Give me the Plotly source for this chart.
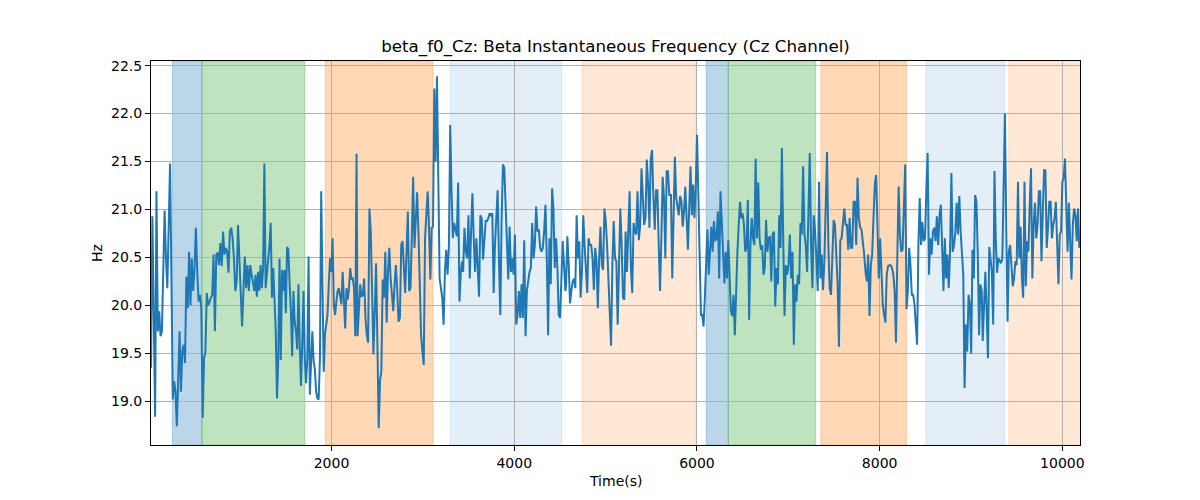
import numpy as np
import plotly.graph_objects as go

# ---- data: beta instantaneous frequency (Hz), traced in consecutive segments ----
seg_bounds = [  # (start time, end time) in seconds for each traced segment
    (24.3, 1125.3), (1154.5, 2274.0), (2284.7, 3429.6), (3440.5, 4559.9),
    (4567.2, 5697.4), (5715.7, 6842.3), (6857.0, 7961.5), (7990.8, 9117.4),
    (9128.3, 10185.7),
]
seg_a = [19.35, 20.93, 19.90, 18.84, 21.19, 19.73, 19.94, 19.68, 19.73, 20.35, 20.99, 20.49, 20.18, 20.84, 21.48,
         20.28, 19.02, 19.21, 19.10, 18.74, 19.17, 19.73, 19.10, 19.52, 19.59, 19.40, 20.30, 19.97, 20.56, 20.00,
         20.49, 20.15, 20.39, 20.81, 20.35, 20.04, 20.11, 19.97, 18.83, 19.45, 19.52, 20.13, 20.00, 20.03, 20.08,
         20.11, 20.53, 19.73, 20.53, 20.55, 20.42, 20.65, 20.41, 20.77, 20.53, 20.60, 20.56, 20.34, 20.77, 20.81,
         20.70, 20.49, 20.15, 20.25, 20.84, 20.49, 20.08, 19.78, 20.15, 20.51, 20.18, 20.42, 20.15, 20.42, 20.32]
seg_b = [20.15, 20.32, 20.09, 20.35, 20.15, 20.42, 20.18, 20.39, 21.48, 20.18, 20.32, 20.42, 20.63, 20.86, 20.08,
         20.39, 20.08, 19.73, 19.03, 19.45, 20.49, 19.43, 20.37, 20.15, 20.37, 19.92, 20.61, 20.58, 20.22, 19.94,
         19.47, 20.15, 19.83, 19.73, 19.54, 20.22, 19.59, 19.16, 19.59, 20.15, 19.45, 19.19, 19.45, 20.51, 19.07,
         19.52, 19.73, 19.42, 19.33, 19.10, 19.03, 19.02, 19.45, 21.19, 20.04, 19.31, 19.70, 19.83, 19.90, 20.22,
         20.49, 20.35, 20.70, 20.01, 19.90, 20.04, 20.15, 20.18, 20.08, 20.01, 20.35, 20.04, 19.76, 20.18, 20.06,
         20.18, 20.39, 20.27, 20.28, 20.18, 19.68, 21.58]
seg_c = [19.68, 19.94, 20.22, 20.09, 20.11, 20.28, 19.87, 19.69, 19.61, 21.01, 20.77, 20.15, 19.49, 19.94, 20.44,
         19.62, 18.72, 19.22, 19.31, 20.27, 20.08, 20.56, 19.82, 20.35, 20.60, 20.28, 20.08, 19.94, 20.22, 20.42,
         20.15, 19.83, 19.87, 20.63, 20.67, 20.42, 20.13, 20.56, 20.98, 20.15, 20.18, 20.70, 21.34, 20.60, 20.84,
         21.18, 20.77, 20.32, 19.69, 19.52, 19.38, 20.70, 20.91, 21.19, 20.81, 20.27, 20.81, 20.82, 22.26, 21.50,
         22.39, 21.50, 20.28, 20.18, 20.08, 19.80, 20.35, 20.58, 20.32, 20.60, 21.88, 21.19, 20.70, 20.86, 20.77,
         20.72, 21.28, 20.04, 20.35, 20.46]
seg_d = [20.35, 20.81, 20.56, 20.49, 20.94, 20.28, 20.77, 21.17, 20.70, 20.35, 20.70, 20.42, 20.09, 20.94, 20.91,
         20.48, 20.70, 20.88, 20.88, 20.91, 20.96, 20.94, 20.96, 20.13, 20.63, 20.98, 21.20, 20.46, 19.90, 20.91,
         21.47, 21.43, 21.01, 20.63, 20.27, 20.82, 20.35, 20.49, 20.32, 20.74, 19.80, 19.90, 20.15, 19.87, 20.22,
         19.87, 20.68, 19.68, 20.15, 20.25, 20.35, 20.39, 20.86, 20.49, 20.63, 21.03, 20.77, 20.79, 20.60, 20.56,
         20.60, 20.77, 21.05, 20.49, 19.69, 20.70, 20.22, 21.22, 21.01, 20.39, 20.70, 20.39, 19.90, 19.87, 20.42,
         20.67, 20.42, 20.15]
seg_e = [20.22, 20.72, 20.42, 20.02, 20.15, 20.25, 20.28, 20.18, 20.94, 20.49, 20.67, 20.08, 20.35, 20.94, 20.63,
         20.42, 20.13, 20.70, 20.63, 20.63, 20.49, 20.16, 20.60, 20.46, 19.97, 20.49, 20.82, 20.42, 20.37, 21.01,
         20.88, 20.63, 20.32, 19.94, 19.58, 20.42, 20.88, 20.49, 20.46, 19.80, 20.49, 21.01, 20.63, 20.08, 20.06,
         20.77, 20.35, 20.91, 21.19, 20.39, 20.13, 20.86, 20.77, 20.74, 21.19, 20.68, 20.84, 21.43, 21.12, 20.84,
         20.91, 21.52, 21.27, 20.81, 21.53, 21.62, 21.12, 20.79, 21.20, 21.20, 20.63, 20.15, 20.70, 21.34, 21.12,
         20.49, 21.40, 21.40, 21.15]
seg_f = [21.15, 20.28, 21.12, 21.55, 21.12, 21.05, 20.94, 21.14, 21.09, 20.82, 20.98, 21.24, 20.94, 20.58, 21.01,
         21.45, 20.94, 21.26, 20.91, 21.22, 21.78, 21.19, 20.56, 19.90, 19.90, 19.78, 20.08, 20.42, 20.79, 20.32,
         20.56, 20.82, 20.56, 20.88, 20.67, 20.70, 20.98, 20.28, 21.19, 20.81, 20.63, 20.23, 20.56, 20.28, 20.68,
         20.22, 19.94, 19.89, 20.11, 19.69, 20.28, 20.56, 20.84, 21.08, 20.91, 20.96, 20.84, 20.56, 20.60, 21.10,
         19.85, 20.63, 20.91, 20.70, 20.63, 21.53, 20.70, 21.28, 20.70, 20.58, 20.63, 20.32, 20.39, 20.89, 20.56,
         20.70, 20.72, 20.25, 20.74, 20.77]
seg_g = [19.99, 20.39, 20.22, 20.94, 20.60, 21.64, 20.70, 19.89, 20.42, 20.32, 20.42, 20.74, 20.28, 20.56, 19.59,
         20.22, 20.04, 20.32, 20.22, 20.86, 20.74, 21.45, 20.74, 20.63, 20.35, 21.05, 21.59, 20.63, 20.18, 20.94,
         20.77, 20.49, 20.15, 21.29, 20.28, 20.53, 20.16, 20.46, 20.98, 21.60, 20.63, 20.18, 20.11, 20.49, 20.89,
         20.84, 20.56, 20.22, 19.57, 20.68, 20.70, 20.91, 21.01, 20.84, 20.84, 20.58, 20.91, 20.60, 20.60, 21.08,
         21.08, 20.63, 21.33, 20.91, 20.81, 20.79, 20.67, 20.53, 20.35, 20.25, 20.53, 19.89, 20.42, 20.53, 20.91,
         21.26, 21.36]
seg_h = [20.28, 20.70, 20.28, 20.01, 19.90, 19.82, 20.32, 20.41, 20.42, 20.42, 20.39, 20.32, 20.15, 19.61, 20.49,
         21.24, 20.74, 20.56, 20.58, 21.19, 21.47, 19.96, 20.15, 20.60, 20.42, 20.11, 20.11, 20.02, 19.80, 19.59,
         20.63, 21.12, 20.63, 20.87, 20.67, 20.70, 21.19, 21.59, 20.32, 20.70, 20.53, 20.77, 20.81, 20.67, 20.93,
         20.63, 20.94, 21.05, 20.60, 20.15, 20.70, 20.28, 20.53, 20.18, 20.56, 21.38, 20.56, 20.63, 20.77, 21.07,
         20.74, 21.14, 20.77, 20.46, 20.32, 19.14, 19.80, 19.52, 20.11, 20.01, 19.50, 20.58, 20.28, 21.15, 21.08,
         20.53, 19.69, 20.22, 20.15]
seg_i = [19.63, 20.01, 20.35, 19.94, 19.45, 20.61, 20.49, 20.35, 19.80, 21.40, 20.67, 20.34, 20.49, 20.46, 20.44,
         20.49, 21.43, 22.00, 20.84, 19.83, 20.56, 20.63, 20.42, 20.20, 20.28, 20.46, 20.42, 21.29, 20.49, 20.82,
         20.28, 20.08, 21.29, 20.20, 20.67, 20.56, 21.05, 21.43, 20.28, 20.84, 21.07, 20.70, 20.84, 21.19, 21.19,
         20.46, 20.98, 21.41, 21.41, 20.60, 20.81, 21.08, 21.08, 20.70, 20.84, 20.91, 21.08, 20.49, 20.22, 20.74,
         20.77, 21.29, 21.33, 21.53, 21.05, 20.56, 21.07, 20.63, 20.27, 20.84, 21.01, 20.94, 20.67, 21.01, 20.60]
segments = [seg_a, seg_b, seg_c, seg_d, seg_e, seg_f, seg_g, seg_h, seg_i]

# ---- shaded epochs: (start, end, colour) ----
band_starts = [258, 582, 1931, 3302, 4742, 6102, 6343, 7357, 8505, 9413]
band_ends = [582, 1709, 3112, 4520, 5989, 6343, 7298, 8293, 9369, 10300]
band_colors = ["rgba(31,119,180,0.3)", "rgba(44,160,44,0.3)", "rgba(255,127,14,0.3)",
               "rgba(31,119,180,0.12)", "rgba(255,127,14,0.17)",
               "rgba(31,119,180,0.3)", "rgba(44,160,44,0.3)", "rgba(255,127,14,0.3)",
               "rgba(31,119,180,0.12)", "rgba(255,127,14,0.17)"]

x_range = [24, 10193]
y_range = [18.545, 22.548]
y_ticks = [19.0, 19.5, 20.0, 20.5, 21.0, 21.5, 22.0, 22.5]
x_ticks = [2000, 4000, 6000, 8000, 10000]

times, values = [], []
for (t0, t1), seg in zip(seg_bounds, segments):
    times.extend(np.linspace(t0, t1, len(seg)).tolist())
    values.extend(seg)

fig = go.Figure()
fig.add_trace(go.Scatter(x=times, y=values, mode="lines",
                         line=dict(color="#1f77b4", width=2), hoverinfo="x+y"))

for s, e, c in zip(band_starts, band_ends, band_colors):
    fig.add_shape(type="rect", xref="x", yref="paper", x0=s, x1=e, y0=0, y1=1,
                  fillcolor=c, line=dict(color=c, width=1), layer="below")

W, H = 1192, 492  # page body adds an 8px margin
font = dict(family="DejaVu Sans", size=14, color="black")
fig.update_layout(
    width=W, height=H,
    margin=dict(l=143, r=120, t=53, b=55),
    paper_bgcolor="white", plot_bgcolor="white",
    showlegend=False,
    font=font,
    title=dict(text="beta_f0_Cz: Beta Instantaneous Frequency (Cz Channel)",
               x=(615.5 - 8) / W, xanchor="center", y=1 - 38 / H, yanchor="middle",
               font=dict(family="DejaVu Sans", size=16.7, color="black")),
)
axis_common = dict(showline=True, linecolor="black", linewidth=1, mirror=True,
                   ticks="outside", ticklen=5, tickwidth=1, tickcolor="black",
                   showgrid=True, gridcolor="#b0b0b0", gridwidth=0.8, zeroline=False,
                   tickfont=font)
fig.update_xaxes(range=x_range, tickvals=x_ticks, ticktext=[str(v) for v in x_ticks], **axis_common)
fig.update_yaxes(range=y_range, tickvals=y_ticks, ticktext=[f"{v:.1f}" for v in y_ticks], **axis_common)

fig.add_annotation(text="Time(s)", xref="paper", yref="paper", x=0.5, y=0,
                   yanchor="middle", yshift=-36, showarrow=False, font=font)
fig.add_annotation(text="Hz", xref="paper", yref="paper", x=0, y=0.5,
                   xanchor="center", xshift=-54, textangle=-90, showarrow=False, font=font)

fig.write_html("out.html")
